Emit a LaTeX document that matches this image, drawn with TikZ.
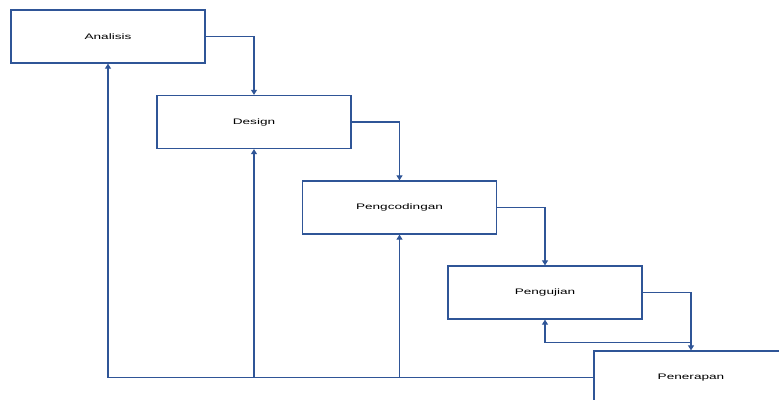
\documentclass[tikz,border=0pt]{standalone}
\usepackage{fontspec}
\setmainfont{Liberation Sans}
\usetikzlibrary{arrows.meta,positioning,calc}
\definecolor{lineblue}{RGB}{47,85,151}
\tikzset{
  stage/.style={draw=lineblue, line width=1.3pt, fill=white, minimum width=194pt, minimum height=53pt, inner sep=0pt},
  lbl/.style={font=\fontsize{8}{9}\selectfont},
  arr/.style={draw=lineblue, line width=1.1pt, -{Triangle[width=6pt,length=5pt]}},
  ln/.style={draw=lineblue, line width=1.1pt}
}
\newcommand{\wide}[1]{\scalebox{1.7}[1]{#1}}
\begin{document}
\begin{tikzpicture}[x=1pt,y=-1pt]
\path[use as bounding box, clip] (0,0) rectangle (779,399);
\fill[white] (0,0) rectangle (779,399);
\node[stage] (an) at (108,36.5) {};
\node[lbl] at (an.center) {\wide{Analisis}};
\node[stage] (de) at (254,122) {};
\node[lbl] at (de.center) {\wide{Design}};
\node[stage] (pc) at (399.5,207.5) {};
\node[lbl] at (pc.center) {\wide{Pengcodingan}};
\node[stage] (pj) at (545,292.5) {};
\node[lbl] at (pj.center) {\wide{Pengujian}};
\node[stage] (pn) at (691,377.5) {};
\node[lbl] (pnl) at (pn.center) {\wide{Penerapan}};
% forward flow
\draw[arr] (an.east) -| (de.north);
\draw[arr] (de.east) -| (pc.north);
\draw[arr] (pc.east) -| (pj.north);
\draw[arr] (pj.east) -| (pn.north);
% feedback from Penerapan to Pengujian
\coordinate (fb) at ($(pn.north)+(0,-8)$);
\draw[arr] (fb) -| (pj.south);
% feedback from Penerapan
\draw[arr] (pn.west) -| (an.south);
\coordinate (bd) at (de.south |- pn.west);
\coordinate (bc) at (pc.south |- pn.west);
\draw[arr] (bd) -- (de.south);
\draw[arr] (bc) -- (pc.south);
\end{tikzpicture}
\end{document}
